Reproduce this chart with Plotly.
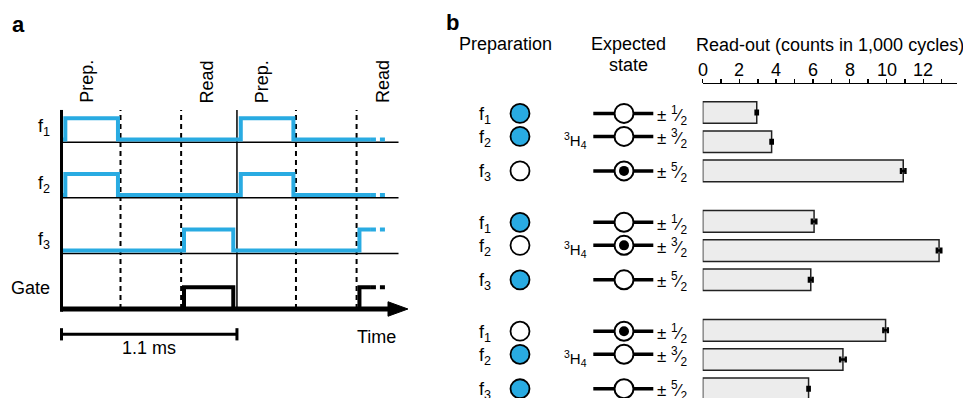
import plotly.graph_objects as go

W, H = 971, 398          # browser window
OFF = 8                  # default page margin around the plot div
FW, FH = W - OFF, H - OFF

# ---------------- data: panel a (timing diagram, times in ms) ----------------
CYCLE_MS = 1.1
N_CYCLES = 2
PREP_WINDOW = (0.024, 0.354)     # pulse on/off within a cycle
READ_WINDOW = (0.768, 1.077)
DASH_TIMES = [0.37, 0.75]        # dashed markers within a cycle
CHANNELS = ["f<sub>1</sub>", "f<sub>2</sub>", "f<sub>3</sub>", "Gate"]
CHANNEL_WINDOW = ["prep", "prep", "read", "read"]
PHASE_LABELS = ["Prep.", "Read"]
PHASE_LABEL_OFFSET = [0.155, 0.912]
SOLID_END_MS = 1.94
DOTTED_END_MS = 2.047
SCALE_BAR_MS = 1.1

# ---------------- data: panel b ----------------
GROUP_PREP = [[1, 1, 0], [1, 0, 1], [0, 1, 1]]      # 1 = frequency applied
GROUP_TARGET = [2, 1, 0]                              # expected populated state
COUNTS = [[2.94, 3.75, 10.91], [6.06, 12.86, 5.88], [9.95, 7.63, 5.76]]
COUNT_ERR = [[0.06, 0.06, 0.12], [0.12, 0.12, 0.10], [0.12, 0.15, 0.06]]
FREQ_LABELS = ["f<sub>1</sub>", "f<sub>2</sub>", "f<sub>3</sub>"]
MJ_NUM = ["1", "3", "5"]
COUNT_TICKS = [0, 2, 4, 6, 8, 10, 12]

# ---------------- styles / layout constants (window pixels) ----------------
BLUE = "#29ABE2"
FONT = "Liberation Sans, Arial, sans-serif"
T0_PX, PX_PER_MS = 61.5, 159.5
GATE_PY, ROW_PX = 309.0, 55.6
HI_BLUE, LO_BLUE = 0.43, 0.05
HI_GATE, LO_GATE = 0.39, 0.0
AX_TOP = 3.58
ZERO_PX, PX_PER_COUNT, AXIS_END_PX = 702.7, 18.38, 957.3
SLOT0_PY, SLOT_PX = 112.5, 29.2
GROUP_STEP = 3.73
LEFT_OFFS = [0.03, 0.82, 2.0]

fig = go.Figure()


def px_x(px):
    return (px - OFF) / FW


def py_y(py):
    return 1 - (py - OFF) / FH


def wave(window, low, high, t_end):
    xs, ys = [0.0], [low]
    for c in range(N_CYCLES):
        on = c * CYCLE_MS + window[0]
        off = c * CYCLE_MS + window[1]
        if on >= t_end:
            break
        xs += [on, on]
        ys += [low, high]
        if off >= t_end:
            xs.append(t_end)
            ys.append(high)
            return xs, ys, high
        xs += [off, off]
        ys += [high, low]
    xs.append(t_end)
    ys.append(low)
    return xs, ys, low


def line(xs, ys, color="black", width=1.5, dash="solid", xa="x", ya="y"):
    fig.add_trace(go.Scatter(x=xs, y=ys, mode="lines", xaxis=xa, yaxis=ya,
                             line=dict(color=color, width=width, dash=dash),
                             hoverinfo="skip", showlegend=False))


n_rows = len(CHANNELS)
t_base_end = 2.113
# thin baselines
for k in range(n_rows - 1):
    base = n_rows - 1 - k
    line([0, t_base_end], [base, base], width=1.5)

# dashed markers and cycle boundary
for c in range(N_CYCLES):
    for d in DASH_TIMES:
        t = c * CYCLE_MS + d
        line([t, t], [0, AX_TOP], width=2, dash="5px,4px")
line([CYCLE_MS, CYCLE_MS], [0, AX_TOP], width=1.5)

# waveforms
for k, (name, win) in enumerate(zip(CHANNELS, CHANNEL_WINDOW)):
    base = n_rows - 1 - k
    window = PREP_WINDOW if win == "prep" else READ_WINDOW
    is_gate = name == "Gate"
    lo, hi = (LO_GATE, HI_GATE) if is_gate else (LO_BLUE, HI_BLUE)
    col = "black" if is_gate else BLUE
    xs, ys, last = wave(window, lo, hi, SOLID_END_MS)
    line(xs, [base + v for v in ys], color=col, width=4)
    line([SOLID_END_MS, DOTTED_END_MS], [base + last, base + last], color=col,
         width=4, dash="5px,4px")

# gate baseline / time axis with arrow
line([0, 2.05], [0, 0], width=5)
fig.add_trace(go.Scatter(x=[2.047, 2.172, 2.047, 2.047], y=[0.13, 0, -0.13, 0.13],
                         mode="lines", fill="toself", fillcolor="black",
                         line=dict(color="black", width=1), hoverinfo="skip",
                         showlegend=False))
# left axis
line([0, 0], [-0.05, AX_TOP], width=3)

# scale bar
sb_y = -0.455
line([0, SCALE_BAR_MS], [sb_y, sb_y], width=3)
line([0, 0], [sb_y - 0.11, sb_y + 0.11], width=3)
line([SCALE_BAR_MS, SCALE_BAR_MS], [sb_y - 0.11, sb_y + 0.11], width=3)

ann = []


def text(x, y, s, size=18, xref="x", yref="y", xanchor="center", yanchor="middle",
         angle=0, bold=False):
    ann.append(dict(x=x, y=y, xref=xref, yref=yref, text=("<b>%s</b>" % s) if bold else s,
                    showarrow=False, xanchor=xanchor, yanchor=yanchor, textangle=angle,
                    font=dict(family=FONT, size=size, color="black")))


label_py = [127, 184, 240, 288]
for name, py in zip(CHANNELS, label_py):
    text(-0.06, (GATE_PY - py) / ROW_PX, name, xanchor="right")
for c in range(N_CYCLES):
    for lab, off in zip(PHASE_LABELS, PHASE_LABEL_OFFSET):
        text(c * CYCLE_MS + off, (GATE_PY - 81.5) / ROW_PX, lab, angle=-90)
text(SCALE_BAR_MS / 2, (GATE_PY - 348.3) / ROW_PX, "%.1f ms" % SCALE_BAR_MS)
text(1.972, (GATE_PY - 336.7) / ROW_PX, "Time")

# ---------------- panel b ----------------
slots, vals, errs = [], [], []
for g in range(3):
    for i in range(3):
        slots.append(g * GROUP_STEP + i)
        vals.append(COUNTS[g][i])
        errs.append(COUNT_ERR[g][i])

fig.add_trace(go.Bar(x=vals, y=slots, orientation="h", width=0.74,
                     xaxis="x2", yaxis="y2",
                     marker=dict(color="#ECECEC", line=dict(color="#222222", width=1.5)),
                     error_x=dict(type="data", array=errs, color="black", thickness=2.5, width=3),
                     hoverinfo="skip", showlegend=False))

PREP_X, STATE_X, LINE_X0, LINE_X1 = 520, 624, 593.3, 653.3
lx, ly = [], []
for g in range(3):
    for i in range(3):
        yv = g * GROUP_STEP + LEFT_OFFS[i]
        lx += [LINE_X0, LINE_X1, None]
        ly += [yv, yv, None]
line(lx, ly, width=3.5, xa="x3", ya="y2")

px_, py_, pc = [], [], []
sx, sy, dx, dy = [], [], [], []
for g in range(3):
    for i in range(3):
        yv = g * GROUP_STEP + LEFT_OFFS[i]
        px_.append(PREP_X)
        py_.append(yv)
        pc.append(BLUE if GROUP_PREP[g][i] else "white")
        sx.append(STATE_X)
        sy.append(yv)
        if GROUP_TARGET[g] == i:
            dx.append(STATE_X)
            dy.append(yv)
        text(484.5, yv + 0.07, FREQ_LABELS[i], xref="x3", yref="y2")
        text(655, yv + 0.07, "± <sup>%s</sup>⁄<sub>2</sub>" % MJ_NUM[i], size=17,
             xref="x3", yref="y2", xanchor="left")
    text(589, g * GROUP_STEP + LEFT_OFFS[1] + 0.15, "<sup>3</sup>H<sub>4</sub>", size=15,
         xref="x3", yref="y2", xanchor="right")

fig.add_trace(go.Scatter(x=px_, y=py_, mode="markers", xaxis="x3", yaxis="y2",
                         marker=dict(size=19, color=pc, line=dict(color="black", width=1.8)),
                         hoverinfo="skip", showlegend=False))
fig.add_trace(go.Scatter(x=sx, y=sy, mode="markers", xaxis="x3", yaxis="y2",
                         marker=dict(size=19, color="white", line=dict(color="black", width=2)),
                         hoverinfo="skip", showlegend=False))
fig.add_trace(go.Scatter(x=dx, y=dy, mode="markers", xaxis="x3", yaxis="y2",
                         marker=dict(size=10, color="black", line=dict(width=0)),
                         hoverinfo="skip", showlegend=False))

# count-axis tick labels
for tv in COUNT_TICKS:
    text(tv, py_y(70.0), str(tv), xref="x2", yref="paper")

# headers and panel letters
text(px_x(506), py_y(44), "Preparation", xref="paper", yref="paper")
text(px_x(628), py_y(44), "Expected", xref="paper", yref="paper")
text(px_x(628), py_y(65), "state", xref="paper", yref="paper")
text(px_x(830), py_y(45), "Read-out (counts in 1,000 cycles)", xref="paper", yref="paper")
text(px_x(18.5), py_y(25), "a", size=22, xref="paper", yref="paper", bold=True)
text(px_x(452), py_y(23), "b", size=22, xref="paper", yref="paper", bold=True)

hidden = dict(visible=False, fixedrange=True)
fig.update_layout(
    width=FW, height=FH, margin=dict(l=0, r=0, t=0, b=0),
    paper_bgcolor="white", plot_bgcolor="rgba(0,0,0,0)",
    font=dict(family=FONT, size=18, color="black"),
    showlegend=False, annotations=ann, barmode="overlay",
    xaxis=dict(domain=[0, px_x(420)], range=[(OFF - T0_PX) / PX_PER_MS, (420 - T0_PX) / PX_PER_MS], **hidden),
    yaxis=dict(domain=[0, 1], range=[(GATE_PY - H) / ROW_PX, (GATE_PY - OFF) / ROW_PX], **hidden),
    xaxis2=dict(domain=[px_x(ZERO_PX), px_x(AXIS_END_PX)],
                range=[0, (AXIS_END_PX - ZERO_PX) / PX_PER_COUNT],
                anchor="free", position=py_y(82.5), side="top", showline=True,
                linecolor="black", linewidth=1.5, showgrid=False, zeroline=False,
                ticks="outside", ticklen=4, tickwidth=1.5, tickcolor="black",
                tickvals=COUNT_TICKS, showticklabels=False,
                minor=dict(dtick=1, tick0=0, ticks="outside", ticklen=4, tickwidth=1.5, tickcolor="black"),
                fixedrange=True),
    yaxis2=dict(domain=[0, 1], range=[(H - SLOT0_PY) / SLOT_PX, (OFF - SLOT0_PY) / SLOT_PX],
                anchor="x2", **hidden),
    xaxis3=dict(domain=[px_x(440), px_x(700)], range=[440, 700], anchor="y2", **hidden),
)

fig.write_html("out.html", config=dict(displayModeBar=False, staticPlot=True))
